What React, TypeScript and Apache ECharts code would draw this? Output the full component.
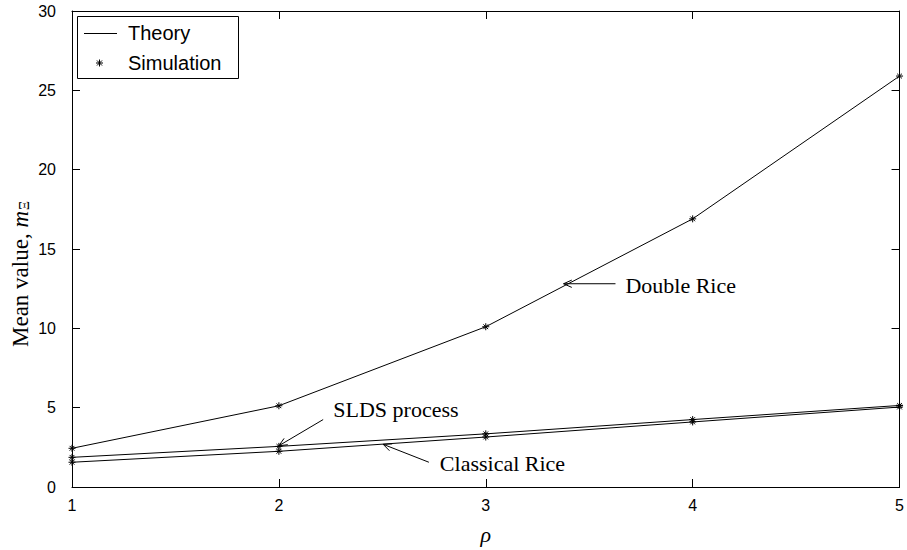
import React, { useEffect, useRef } from 'react';
import * as echarts from 'echarts';

// ---- data ----
const rho = [1, 2, 3, 4, 5];
const doubleRice = [2.44, 5.12, 10.1, 16.9, 25.9];
const sldsProcess = [1.87, 2.56, 3.35, 4.25, 5.14];
const classicalRice = [1.56, 2.25, 3.15, 4.1, 5.04];
const xTicks = [1, 2, 3, 4, 5];
const yTicks = [0, 5, 10, 15, 20, 25, 30];
const legendLabels = ['Theory', 'Simulation'];

// annotation anchors in data coordinates
const annotationLabels = ['Double Rice', 'SLDS process', 'Classical Rice'];
const annotationTails = [[3.627, 12.81], [2.214, 4.25], [2.725, 1.56]];
const annotationTips = [[3.376, 12.81], [2.0, 2.6], [2.504, 2.69]];
const annotationTextAt = [[3.675, 12.72], [2.263, 4.88], [2.778, 1.47]];

const ASTERISK = 'path://M5,0L5,10M0,5L10,5M1.6,1.6L8.4,8.4M1.6,8.4L8.4,1.6';
const SERIF = '"Liberation Serif", "Times New Roman", serif';
const SANS = '"Liberation Sans", Arial, Helvetica, sans-serif';

export default function App() {
  const ref = useRef<HTMLDivElement>(null);

  useEffect(() => {
    const el = ref.current!;
    const chart = echarts.init(el, null, { renderer: 'svg' });

    const mkSeries = (name: string, vals: number[]) => ({
      name,
      type: 'line',
      data: rho.map((x, i) => [x, vals[i]]),
      symbol: ASTERISK,
      symbolSize: 7,
      showSymbol: true,
      lineStyle: { color: '#000', width: 1 },
      itemStyle: { color: '#000', borderColor: '#000', borderWidth: 1 },
      emphasis: { disabled: true },
      silent: true,
      clip: false,
      z: 3,
    });

    const tickCommon = {
      axisLine: { show: true, onZero: false, lineStyle: { color: '#000', width: 1 } },
      axisTick: { show: true, inside: true, length: 8, lineStyle: { color: '#000', width: 1 } },
      splitLine: { show: false },
    };

    chart.setOption({
      animation: false,
      backgroundColor: '#fff',
      grid: { left: 72, right: 5, top: 11, bottom: 59, containLabel: false },
      xAxis: [
        {
          type: 'value',
          min: xTicks[0],
          max: xTicks[xTicks.length - 1],
          interval: 1,
          position: 'bottom',
          ...tickCommon,
          axisLabel: { color: '#000', fontSize: 16, fontFamily: SANS, margin: 10 },
          name: 'ρ',
          nameLocation: 'middle',
          nameGap: 36,
          nameTextStyle: { fontFamily: SERIF, fontStyle: 'italic', fontSize: 22, color: '#000' },
        },
        {
          type: 'value',
          min: xTicks[0],
          max: xTicks[xTicks.length - 1],
          interval: 1,
          position: 'top',
          ...tickCommon,
          axisLabel: { show: false },
        },
      ],
      yAxis: [
        {
          type: 'value',
          min: yTicks[0],
          max: yTicks[yTicks.length - 1],
          interval: 5,
          position: 'left',
          ...tickCommon,
          axisLabel: { color: '#000', fontSize: 16, fontFamily: SANS, margin: 16 },
        },
        {
          type: 'value',
          min: yTicks[0],
          max: yTicks[yTicks.length - 1],
          interval: 5,
          position: 'right',
          ...tickCommon,
          axisLabel: { show: false },
        },
      ],
      series: [
        mkSeries('Double Rice', doubleRice),
        mkSeries('SLDS process', sldsProcess),
        mkSeries('Classical Rice', classicalRice),
      ],
    });

    const toPx = (p: number[]) =>
      chart.convertToPixel({ xAxisIndex: 0, yAxisIndex: 0 } as any, p) as number[];

    const graphics: any[] = [];

    // y-axis title (rotated)
    graphics.push({
      type: 'text',
      silent: true,
      z: 10,
      x: 20,
      y: 274,
      rotation: Math.PI / 2,
      style: {
        text: '{a|Mean value, }{m|m}{s|Ξ}',
        align: 'center',
        verticalAlign: 'middle',
        rich: {
          a: { fontFamily: SERIF, fontSize: 23, fill: '#000', color: '#000' },
          m: { fontFamily: SERIF, fontSize: 23, fontStyle: 'italic', fill: '#000', color: '#000' },
          s: { fontFamily: SERIF, fontSize: 14, fill: '#000', color: '#000', verticalAlign: 'bottom', padding: [8, 0, 0, 1] },
        },
      },
    });

    annotationLabels.forEach((label, i) => {
      const t = toPx(annotationTails[i]);
      const h = toPx(annotationTips[i]);
      const ang = Math.atan2(h[1] - t[1], h[0] - t[0]);
      const L = 9;
      const spread = 0.42;
      const w1 = [h[0] - L * Math.cos(ang - spread), h[1] - L * Math.sin(ang - spread)];
      const w2 = [h[0] - L * Math.cos(ang + spread), h[1] - L * Math.sin(ang + spread)];
      graphics.push({
        type: 'line',
        silent: true,
        z: 10,
        shape: { x1: t[0], y1: t[1], x2: h[0], y2: h[1] },
        style: { stroke: '#000', lineWidth: 1 },
      });
      graphics.push({
        type: 'polyline',
        silent: true,
        z: 10,
        shape: { points: [w1, h, w2] },
        style: { stroke: '#000', lineWidth: 1, fill: 'none' },
      });
      const tp = toPx(annotationTextAt[i]);
      graphics.push({
        type: 'text',
        silent: true,
        z: 10,
        x: tp[0],
        y: tp[1],
        style: {
          text: label,
          fontFamily: SERIF,
          fontSize: 22,
          fill: '#000',
          align: 'left',
          verticalAlign: 'middle',
        },
      });
    });

    // legend box (top-left, inside the axes)
    const lx = 77, ly = 16, lw = 161, lh = 62;
    const row1 = ly + 17, row2 = ly + 47;
    const mx = 99.5, my = row2, r = 3.5, d = r * 0.72;
    const starLine = (x1: number, y1: number, x2: number, y2: number) => ({
      type: 'line',
      silent: true,
      z: 22,
      shape: { x1, y1, x2, y2 },
      style: { stroke: '#000', lineWidth: 1 },
    });
    graphics.push(
      {
        type: 'rect',
        silent: true,
        z: 20,
        shape: { x: lx + 0.5, y: ly + 0.5, width: lw, height: lh },
        style: { fill: '#fff', stroke: '#000', lineWidth: 1 },
      },
      {
        type: 'line',
        silent: true,
        z: 21,
        shape: { x1: 84, y1: row1 + 0.5, x2: 117, y2: row1 + 0.5 },
        style: { stroke: '#000', lineWidth: 1 },
      },
      starLine(mx, my - r, mx, my + r),
      starLine(mx - r, my, mx + r, my),
      starLine(mx - d, my - d, mx + d, my + d),
      starLine(mx - d, my + d, mx + d, my - d),
      {
        type: 'text',
        silent: true,
        z: 21,
        x: 128,
        y: row1,
        style: { text: legendLabels[0], fontFamily: SANS, fontSize: 20, fill: '#000', align: 'left', verticalAlign: 'middle' },
      },
      {
        type: 'text',
        silent: true,
        z: 21,
        x: 128,
        y: row2,
        style: { text: legendLabels[1], fontFamily: SANS, fontSize: 20, fill: '#000', align: 'left', verticalAlign: 'middle' },
      }
    );

    chart.setOption({ graphic: graphics });

    return () => {
      chart.dispose();
    };
  }, []);

  return (
    <div
      ref={ref}
      style={{ position: 'fixed', left: 0, top: 0, width: 907, height: 550, background: '#fff' }}
    />
  );
}
